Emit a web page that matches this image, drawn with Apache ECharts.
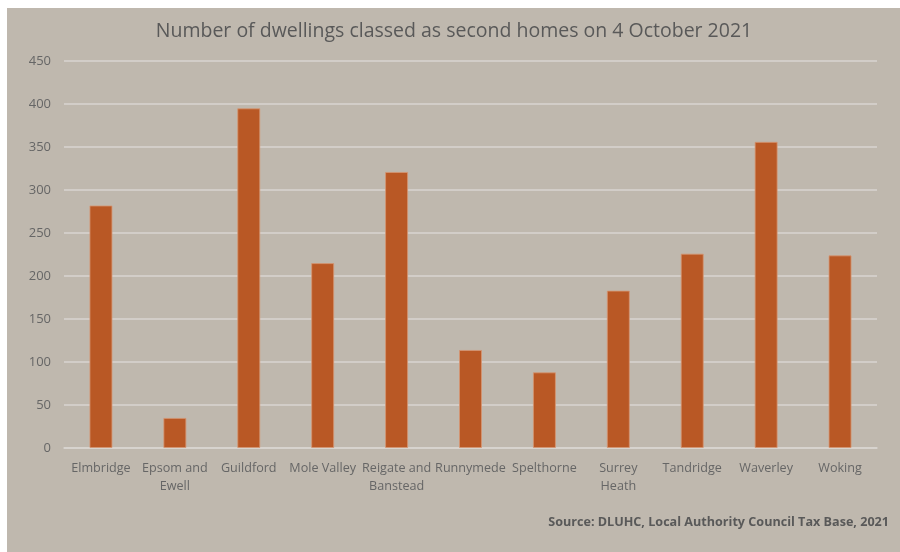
<!DOCTYPE html>
<html>
<head>
<meta charset="utf-8">
<script src="https://cdn.jsdelivr.net/npm/echarts@6/dist/echarts.min.js"></script>
<style>
html,body{margin:0;padding:0;background:#ffffff;}
#wrap{position:relative;width:900px;height:552px;background:#ffffff;overflow:hidden;}
#chart{position:absolute;left:7px;top:8px;width:893px;height:544px;}
</style>
</head>
<body>
<div id="wrap"><div id="chart"></div></div>
<script>
const titleText = 'Number of dwellings classed as second homes on 4 October 2021';
const sourceText = 'Source: DLUHC, Local Authority Council Tax Base, 2021';
const categories = ['Elmbridge', 'Epsom and\nEwell', 'Guildford', 'Mole Valley', 'Reigate and\nBanstead', 'Runnymede', 'Spelthorne', 'Surrey\nHeath', 'Tandridge', 'Waverley', 'Woking'];
const values = [282, 35, 395, 215, 321, 114, 88, 183, 226, 356, 224];
const yTicks = [0, 50, 100, 150, 200, 250, 300, 350, 400, 450];

const chart = echarts.init(document.getElementById('chart'), null, {renderer: 'canvas'});
const font = '"Open Sans", "Noto Sans", sans-serif';
chart.setOption({
  backgroundColor: '#bfb8ae',
  animation: false,
  textStyle: {fontFamily: font},
  grid: {left: 57, right: 23, top: 53, bottom: 104, containLabel: false},
  graphic: [
    {type: 'text', x: 447, y: 23,
     style: {text: titleText, fontSize: 19.5, fontFamily: font, fill: '#595959', align: 'center', verticalAlign: 'middle'}},
    {type: 'text', x: 882, y: 514,
     style: {text: sourceText, fontSize: 12.6, fontWeight: 'bold', fontFamily: font, fill: '#595959', align: 'right', verticalAlign: 'middle'}}
  ],
  xAxis: {
    type: 'category',
    data: categories,
    axisLine: {show: true, lineStyle: {color: '#d9d5d0', width: 1.5}},
    axisTick: {show: false},
    axisLabel: {color: '#666666', fontSize: 12.6, fontFamily: font, margin: 11, lineHeight: 18, interval: 0}
  },
  yAxis: {
    type: 'value',
    min: yTicks[0],
    max: yTicks[yTicks.length - 1],
    interval: 50,
    axisLine: {show: false},
    axisTick: {show: false},
    axisLabel: {color: '#666666', fontSize: 13, fontFamily: font, margin: 13},
    splitLine: {lineStyle: {color: '#d9d5d0', width: 1.5}}
  },
  series: [{
    type: 'bar',
    data: values,
    barWidth: 23,
    itemStyle: {color: '#b95825', borderColor: 'rgba(214,150,115,0.8)', borderWidth: 1}
  }]
});
</script>
</body>
</html>
